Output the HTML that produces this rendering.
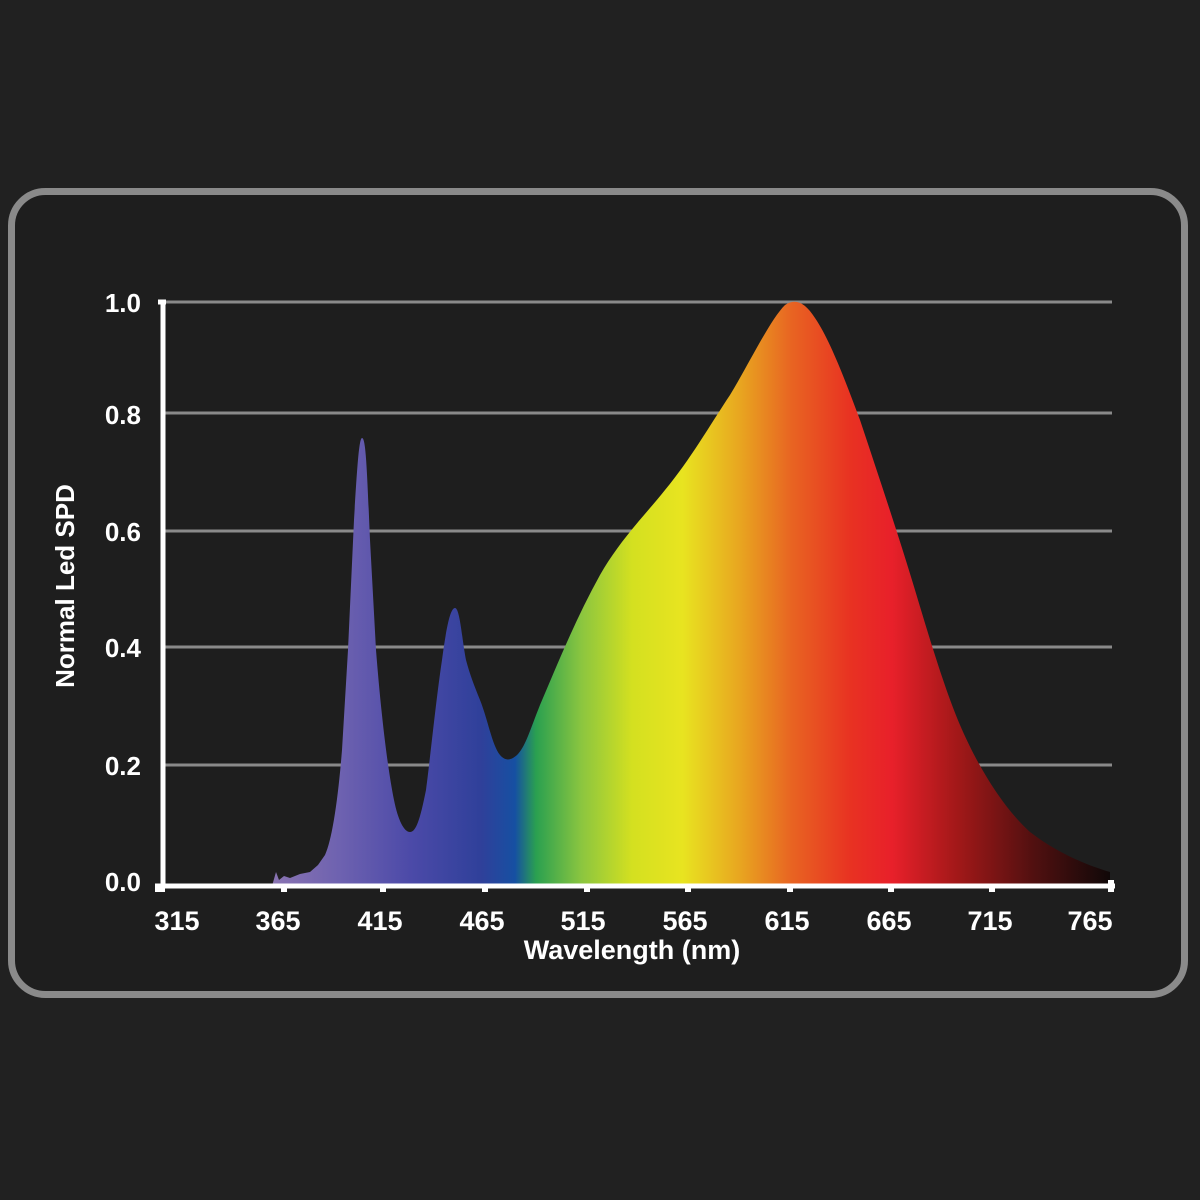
<!DOCTYPE html>
<html><head><style>
html,body{margin:0;padding:0;background:#212121;}
svg{display:block}
text{font-family:"Liberation Sans",sans-serif;fill:#fff;font-weight:bold}
</style></head><body>
<svg width="1200" height="1200" viewBox="0 0 1200 1200">
<rect width="1200" height="1200" fill="#212121"/>
<rect x="11.5" y="191.5" width="1173" height="803" rx="34" fill="#1e1e1e" stroke="#8a8a8a" stroke-width="7"/>
<defs>
<linearGradient id="g" gradientUnits="userSpaceOnUse" x1="272" y1="0" x2="1110" y2="0">
<stop offset="0" stop-color="#8a74b2"/>
<stop offset="0.08" stop-color="#6e62b0"/>
<stop offset="0.165" stop-color="#4c4aa8"/>
<stop offset="0.25" stop-color="#2f409a"/>
<stop offset="0.29" stop-color="#1650a2"/>
<stop offset="0.315" stop-color="#2aa050"/>
<stop offset="0.37" stop-color="#8cc63f"/>
<stop offset="0.43" stop-color="#d4e020"/>
<stop offset="0.49" stop-color="#e8e420"/>
<stop offset="0.56" stop-color="#e8a420"/>
<stop offset="0.62" stop-color="#e86422"/>
<stop offset="0.69" stop-color="#e83222"/>
<stop offset="0.74" stop-color="#e8202a"/>
<stop offset="0.82" stop-color="#a01818"/>
<stop offset="0.91" stop-color="#501010"/>
<stop offset="1" stop-color="#100808"/>
</linearGradient>
</defs>
<g stroke="#8a8a8a" stroke-width="3">
<line x1="163" y1="302" x2="1112" y2="302"/>
<line x1="163" y1="413" x2="1112" y2="413"/>
<line x1="163" y1="531" x2="1112" y2="531"/>
<line x1="163" y1="647" x2="1112" y2="647"/>
<line x1="163" y1="765" x2="1112" y2="765"/>
</g>
<path fill="url(#g)" d="M272,886 L276,872 L279,880 L284,876 L290,878 L300,874 L310,872 L318,865 L325,855 C332,840 338,800 342,750 L348,650 L354,520 C357,470 359,438 362,438 C366,438 367,470 370,540 L376,650 C380,700 386,760 394,800 C398,820 404,832 410,832 C416,832 420,820 426,790 C430,760 436,700 442,660 C446,630 450,608 455,608 C460,608 462,640 466,660 C470,675 474,685 480,700 C488,720 492,745 500,755 C506,762 512,760 518,754 C526,745 530,730 540,705 C555,670 575,620 600,575 C620,540 645,515 665,490 C690,460 710,425 730,395 C750,362 770,320 785,305 C795,298 805,302 815,318 C830,340 845,380 860,420 C880,480 900,540 915,590 C930,640 945,690 960,725 C975,760 1000,805 1030,832 C1060,855 1090,866 1110,872 L1110,886 Z"/>
<g stroke="#fff" stroke-width="5" fill="none">
<line x1="163" y1="300" x2="163" y2="888"/>
<line x1="155" y1="886" x2="1115" y2="886"/>
<line x1="158" y1="302" x2="166" y2="302"/>
</g>
<g fill="#fff">
<rect x="155" y="886" width="10" height="6"/>
<rect x="281" y="886" width="6" height="6"/>
<rect x="380" y="886" width="6" height="6"/>
<rect x="482" y="886" width="6" height="6"/>
<rect x="584" y="886" width="6" height="6"/>
<rect x="685" y="886" width="6" height="6"/>
<rect x="787" y="886" width="6" height="6"/>
<rect x="888" y="886" width="6" height="6"/>
<rect x="989" y="886" width="6" height="6"/>
<rect x="1108" y="880" width="6" height="12"/>
</g>
<g font-size="26" text-anchor="end">
<text x="141" y="312">1.0</text>
<text x="141" y="424">0.8</text>
<text x="141" y="541">0.6</text>
<text x="141" y="657">0.4</text>
<text x="141" y="775">0.2</text>
<text x="141" y="891">0.0</text>
</g>
<g font-size="27" text-anchor="middle">
<text x="177" y="930">315</text>
<text x="278" y="930">365</text>
<text x="380" y="930">415</text>
<text x="482" y="930">465</text>
<text x="583" y="930">515</text>
<text x="685" y="930">565</text>
<text x="787" y="930">615</text>
<text x="889" y="930">665</text>
<text x="990" y="930">715</text>
<text x="1090" y="930">765</text>
<text x="632" y="959">Wavelength (nm)</text>
</g>
<text font-size="26" text-anchor="middle" transform="translate(74,586) rotate(-90)">Normal Led SPD</text>
</svg>
</body></html>
